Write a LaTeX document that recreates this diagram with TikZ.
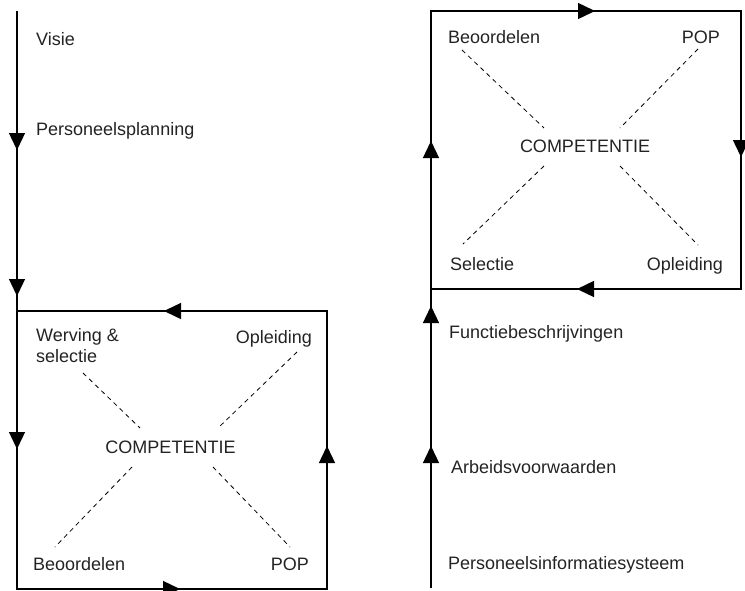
\documentclass[tikz,border=0pt]{standalone}
\usepackage{fontspec}
\setmainfont{Liberation Sans}
\usetikzlibrary{arrows.meta}
\definecolor{txt}{RGB}{35,35,35}
\begin{document}
\begin{tikzpicture}[x=1pt,y=-1pt,
  edge/.style={line width=1.4pt, line cap=rect},
  flow/.style={line width=1.4pt, -{Triangle[length=17pt,width=16pt]}},
  dashline/.style={dash pattern=on 4.5pt off 4pt, line width=0.8pt},
  lbl/.style={font=\fontsize{18}{21}\selectfont, text=txt, inner sep=0pt, align=left},
]
\useasboundingbox (0,0) rectangle (745,590);

% ---------- left diagram ----------
\coordinate (L0) at (17,12);
\coordinate (La1) at (17,150);
\coordinate (La2) at (17,296);
\coordinate (BTL) at (17,311);
\coordinate (BTR) at (327,311);
\coordinate (BBR) at (327,589);
\coordinate (BBL) at (17,589);
\coordinate (La3) at (17,449);
\coordinate (Bt) at (164,311);
\coordinate (Br) at (327,446);
\coordinate (Bb) at (180,589);

\draw[edge] (L0) -- (BBL);
\draw[edge] (BTL) -- (BTR) -- (BBR) -- (BBL);
\draw[flow] (L0) -- (La1);
\draw[flow] (La1) -- (La2);
\draw[flow] (BTL) -- (La3);
\draw[flow] (BTR) -- (Bt);
\draw[flow] (BBR) -- (Br);
\draw[flow] (BBL) -- (Bb);

\node[lbl, anchor=base west] (visie) at (36,45) {Visie};
\node[lbl, anchor=base west] (pplan) at (36,135) {Personeelsplanning};
\node[lbl, anchor=north west] (werv) at (36,328) {Werving \&\\selectie};
\node[lbl, anchor=base east] (oplL) at (312,343) {Opleiding};
\node[lbl, anchor=base] (compL) at (170.5,453) {COMPETENTIE};
\node[lbl, anchor=base west] (beoL) at (33,570) {Beoordelen};
\node[lbl, anchor=base east] (popL) at (309,570) {POP};

\coordinate (d1a) at (83,373);  \coordinate (d1b) at (140,428);
\coordinate (d2a) at (297,352); \coordinate (d2b) at (218,428);
\coordinate (d3a) at (132,467); \coordinate (d3b) at (55,547);
\coordinate (d4a) at (213,467); \coordinate (d4b) at (290,547);
\draw[dashline] (d1a) -- (d1b);
\draw[dashline] (d2a) -- (d2b);
\draw[dashline] (d3a) -- (d3b);
\draw[dashline] (d4a) -- (d4b);

% ---------- right diagram ----------
\coordinate (R0) at (431,587);
\coordinate (Ra1) at (431,446);
\coordinate (Ra2) at (431,306);
\coordinate (CTL) at (431,11);
\coordinate (CTR) at (741,11);
\coordinate (CBR) at (741,289);
\coordinate (CBL) at (431,289);
\coordinate (Ct) at (595,11);
\coordinate (Cr) at (741,157);
\coordinate (Cb) at (577,289);
\coordinate (Cl) at (431,141);

\draw[edge] (R0) -- (CTL) -- (CTR) -- (CBR) -- (CBL);
\draw[flow] (R0) -- (Ra1);
\draw[flow] (Ra1) -- (Ra2);
\draw[flow] (CBL) -- (Cl);
\draw[flow] (CTL) -- (Ct);
\draw[flow] (CTR) -- (Cr);
\draw[flow] (CBR) -- (Cb);

\node[lbl, anchor=base west] (beoR) at (448,43) {Beoordelen};
\node[lbl, anchor=base east] (popR) at (720,43) {POP};
\node[lbl, anchor=base] (compR) at (585,152) {COMPETENTIE};
\node[lbl, anchor=base west] (selR) at (450,270) {Selectie};
\node[lbl, anchor=base east] (oplR) at (723,270) {Opleiding};
\node[lbl, anchor=base west] (func) at (449,338) {Functiebeschrijvingen};
\node[lbl, anchor=base west] (arb) at (451,473) {Arbeidsvoorwaarden};
\node[lbl, anchor=base west] (pis) at (448,569) {Personeelsinformatiesysteem};

\coordinate (e1a) at (462,50);  \coordinate (e1b) at (544,128);
\coordinate (e2a) at (698,49);  \coordinate (e2b) at (620,128);
\coordinate (e3a) at (544,166); \coordinate (e3b) at (463,244);
\coordinate (e4a) at (620,166); \coordinate (e4b) at (698,245);
\draw[dashline] (e1a) -- (e1b);
\draw[dashline] (e2a) -- (e2b);
\draw[dashline] (e3a) -- (e3b);
\draw[dashline] (e4a) -- (e4b);
\end{tikzpicture}
\end{document}
